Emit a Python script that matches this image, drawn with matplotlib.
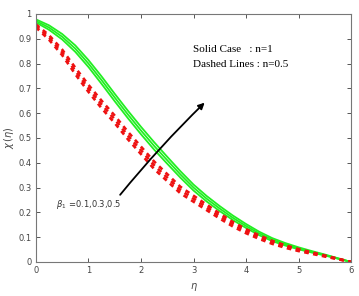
import matplotlib
matplotlib.use("Agg")
import matplotlib.pyplot as plt
from matplotlib.ticker import FixedLocator, FuncFormatter

eta = [0.0, 0.25, 0.5, 0.75, 1.0, 1.25, 1.5, 1.75, 2.0, 2.25, 2.5, 2.75, 3.0,
       3.25, 3.5, 3.75, 4.0, 4.25, 4.5, 4.75, 5.0, 5.25, 5.5, 5.75, 6.0]

# Solid lines (n = 1), beta1 = 0.1, 0.3, 0.5
solid_b01 = [.966, .936, .897, .847, .786, .718, .648, .580, .515, .453, .396, .340, .288,
             .244, .205, .169, .137, .108, .084, .066, .051, .038, .026, .013, 0.0]
solid_b03 = [.972, .945, .908, .860, .800, .733, .663, .595, .530, .468, .410, .353, .300,
             .255, .215, .178, .145, .115, .090, .071, .055, .041, .028, .014, 0.0]
solid_b05 = [.978, .954, .919, .873, .814, .748, .678, .610, .545, .483, .424, .366, .312,
             .266, .225, .187, .153, .122, .096, .076, .059, .044, .030, .015, 0.0]

# Dashed lines (n = 0.5), beta1 = 0.1, 0.3, 0.5
dash_b01 = [.946, .896, .834, .757, .686, .620, .560, .495, .435, .375, .326, .277, .243,
            .209, .175, .143, .116, .093, .073, .057, .044, .033, .022, .011, 0.0]
dash_b03 = [.952, .905, .845, .770, .700, .635, .575, .510, .450, .390, .340, .290, .255,
            .220, .185, .152, .124, .100, .079, .062, .048, .036, .024, .012, 0.0]
dash_b05 = [.958, .914, .856, .783, .714, .650, .590, .525, .465, .405, .354, .303, .267,
            .231, .195, .161, .132, .107, .085, .067, .052, .039, .026, .013, 0.0]

x_ticks = [0, 1, 2, 3, 4, 5, 6]
y_ticks = [0, 0.1, 0.2, 0.3, 0.4, 0.5, 0.6, 0.7, 0.8, 0.9, 1.0]

fig = plt.figure(figsize=(3.59, 2.96), dpi=100)
ax = fig.add_axes([0.100, 0.115, 0.878, 0.838])

green = "#22ee22"
red = "#ee1111"
for s in (solid_b01, solid_b03, solid_b05):
    ax.plot(eta, s, color=green, lw=1.3)
for d in (dash_b01, dash_b03, dash_b05):
    ax.plot(eta, d, color=red, lw=1.9, dashes=(1.7, 1.7))

ax.set_xlim(0, 6)
ax.set_ylim(0, 1)
ax.xaxis.set_major_locator(FixedLocator(x_ticks))
ax.yaxis.set_major_locator(FixedLocator(y_ticks))
ax.yaxis.set_major_formatter(FuncFormatter(lambda v, p: "%g" % v))
ax.tick_params(direction="in", top=True, right=True, length=3, width=0.7,
               labelsize=6, colors="#555555", labelcolor="#444444", pad=3)
for sp in ax.spines.values():
    sp.set_color("#777777")
    sp.set_linewidth(0.8)

ax.set_xlabel(r"$\eta$", fontsize=7, color="#444444", labelpad=4)
ax.set_ylabel(r"$\chi\,(\eta)$", fontsize=7, color="#444444", labelpad=2)

ax.text(2.99, 0.855, "Solid Case   : n=1", family="Liberation Serif", fontsize=8, va="center")
ax.text(2.99, 0.796, "Dashed Lines : n=0.5", family="Liberation Serif", fontsize=8, va="center")

ax.annotate("", xy=(3.25, 0.65), xytext=(1.57, 0.262),
            arrowprops=dict(arrowstyle="-|>", color="black", lw=1.3,
                            mutation_scale=9, connectionstyle="arc3,rad=-0.03"))
ax.text(0.38, 0.23, r"$\beta_1$" + " =0.1,0.3,0.5", fontsize=6, color="#333333", va="center")

fig.savefig("out.png", dpi=100)
